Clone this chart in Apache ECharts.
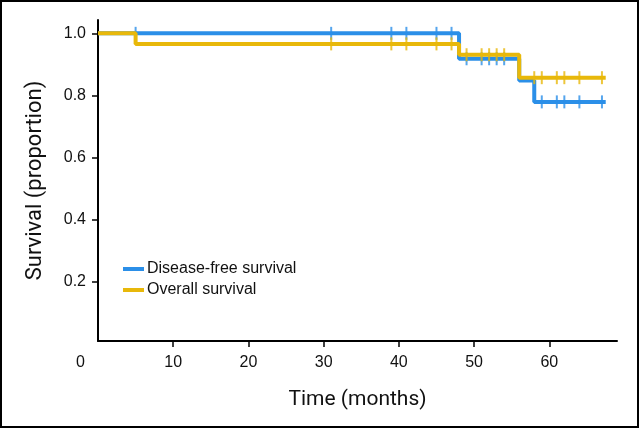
<!DOCTYPE html>
<html><head><meta charset="utf-8">
<script src="https://cdn.jsdelivr.net/npm/echarts@6/dist/echarts.min.js"></script>
<style>html,body{margin:0;padding:0;background:#fff}#c{width:640px;height:429px}</style>
</head><body><div id="c"></div>
<script>
// Kaplan-Meier step points [month, proportion]
var dfsSteps = [[0,1.0],[48,0.918],[56,0.848],[58,0.779],[67.5,0.779]];
var osSteps  = [[0,1.0],[5.0,0.966],[48,0.931],[56,0.857],[67.5,0.857]];
// censor times
var dfsCensor = [5, 31, 39, 41, 45, 47, 49, 51, 52, 53, 54, 59, 61, 62, 64, 67];
var osCensor  = [31, 39, 41, 45, 47, 49, 51, 52, 53, 54, 58, 59, 61, 62, 64, 67];
var xTicks = [10, 20, 30, 40, 50, 60];
var yTicks = [0.2, 0.4, 0.6, 0.8, 1.0];
var names = ['Disease-free survival', 'Overall survival'];
var colors = ['#2b8fe8', '#e8b80a'];

function survAt(steps, t) {
  var v = steps[0][1];
  for (var i = 0; i < steps.length; i++) { if (steps[i][0] <= t) v = steps[i][1]; }
  return v;
}
var dfsMarks = dfsCensor.map(function (t) { return [t, survAt(dfsSteps, t)]; });
var osMarks = osCensor.map(function (t) { return [t, survAt(osSteps, t)]; });

var font = 'Liberation Sans';
var chart = echarts.init(document.getElementById('c'), null, {renderer: 'canvas'});
chart.setOption({
  animation: false,
  backgroundColor: '#fff',
  grid: {left: 98, right: 23, top: 20, bottom: 88, containLabel: false},
  legend: {
    orient: 'vertical', left: 118, top: 256, itemGap: 5,
    itemWidth: 21, itemHeight: 4, icon: 'rect',
    data: names,
    textStyle: {fontFamily: font, fontSize: 16, color: '#111', padding: [0, 0, 0, -2]}
  },
  xAxis: {
    type: 'value', min: 0, max: 69,
    name: 'Time (months)', nameLocation: 'middle', nameGap: 48,
    nameTextStyle: {fontFamily: 'Roboto', fontSize: 21, color: '#111'},
    axisLine: {lineStyle: {color: '#000', width: 2}},
    axisTick: {show: true, length: 6, lineStyle: {color: '#000', width: 1.5}, customValues: xTicks},
    axisLabel: {customValues: xTicks, margin: 14, fontFamily: font, fontSize: 16, color: '#111'},
    splitLine: {show: false}
  },
  yAxis: {
    type: 'value', min: 0.008, max: 1.043,
    name: 'Survival (proportion)', nameLocation: 'middle', nameGap: 52, nameRotate: 90,
    nameTextStyle: {fontFamily: 'Roboto', fontSize: 22, color: '#111'},
    axisLine: {show: true, lineStyle: {color: '#000', width: 2}},
    axisTick: {show: true, length: 6, lineStyle: {color: '#000', width: 1.5}, customValues: yTicks},
    axisLabel: {customValues: yTicks, margin: 12, fontFamily: font, fontSize: 16, color: '#111',
      formatter: function (v) { return v.toFixed(1); }},
    splitLine: {show: false}
  },
  graphic: [
    {type: 'text', left: 76, top: 355, style: {text: '0', font: '16px "Liberation Sans"', fill: '#111'}},
    {type: 'rect', shape: {x: 1, y: 1, width: 637, height: 426}, style: {fill: 'none', stroke: '#000', lineWidth: 2}, silent: true}
  ],
  series: [
    {name: names[0], type: 'line', step: 'end', data: dfsSteps, symbol: 'none', color: colors[0],
      lineStyle: {width: 4, color: colors[0]}, z: 2},
    {name: names[1], type: 'line', step: 'end', data: osSteps, symbol: 'none', color: colors[1],
      lineStyle: {width: 4, color: colors[1]}, z: 3},
    {name: names[0] + ' censor', type: 'scatter', data: dfsMarks, symbol: 'rect', symbolSize: [2, 13],
      itemStyle: {color: colors[0]}, z: 2},
    {name: names[1] + ' censor', type: 'scatter', data: osMarks, symbol: 'rect', symbolSize: [2, 13],
      itemStyle: {color: colors[1]}, z: 3}
  ]
});
</script></body></html>
